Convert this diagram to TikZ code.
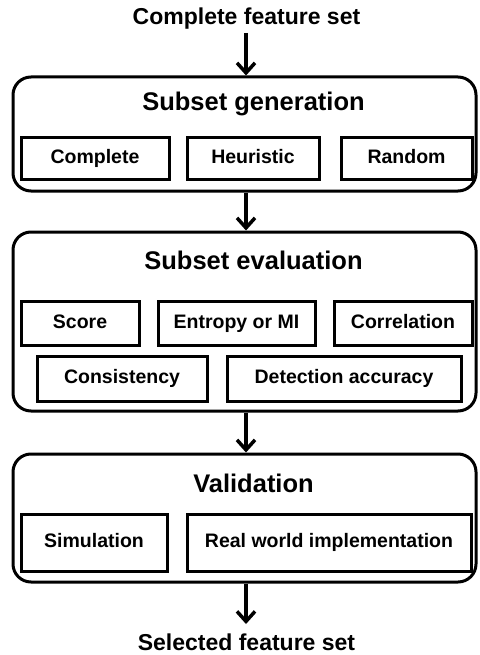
\documentclass[tikz,border=0pt]{standalone}
\usepackage{fontspec}
\setmainfont{Liberation Sans}
\usetikzlibrary{arrows.meta}
\tikzset{
  stage/.style={draw, line width=3pt, rounded corners=18pt, minimum width=463pt, inner sep=0pt},
  item/.style={draw, line width=3pt, inner sep=0pt, text height=14pt, text depth=4pt,
    font=\fontsize{19.5}{23}\selectfont\bfseries},
  heading/.style={anchor=base, inner sep=0pt, font=\fontsize{25.5}{30}\selectfont\bfseries},
  endlabel/.style={anchor=base, inner sep=0pt, font=\fontsize{23}{27}\selectfont\bfseries},
  flow/.style={line width=3.5pt, -{Straight Barb[length=10pt,width=18pt,line width=3.5pt]}}
}
\begin{document}
\begin{tikzpicture}[x=1pt, y=-1pt]
  \useasboundingbox (0,0) rectangle (479,655);

  % input and output labels
  \node[endlabel] (input) at (246.5,25) {Complete feature set};
  \node[endlabel] (output) at (246.5,650) {Selected feature set};

  % stage frames
  \node[stage, minimum height=114pt] (gen) at (244.5,134) {};
  \node[stage, minimum height=179pt] (eval) at (244.5,321.5) {};
  \node[stage, minimum height=128pt] (valid) at (244.5,518) {};

  % stage headings
  \node[heading] (genT) at (253.5,111) {Subset generation};
  \node[heading] (evalT) at (253.5,269) {Subset evaluation};
  \node[heading] (validT) at (253.5,492) {Validation};

  % subset generation methods
  \node[item, minimum width=148pt, minimum height=42pt] (complete) at (95,158.5) {Complete};
  \node[item, minimum width=132pt, minimum height=42pt] (heuristic) at (253,158.5) {Heuristic};
  \node[item, minimum width=131pt, minimum height=42pt] (random) at (406.5,158.5) {Random};

  % evaluation criteria
  \node[item, minimum width=118pt, minimum height=44pt] (score) at (80,323) {Score};
  \node[item, minimum width=157pt, minimum height=44pt] (entropy) at (236.5,323) {Entropy or MI};
  \node[item, minimum width=138pt, minimum height=44pt] (corr) at (403,323) {Correlation};
  \node[item, minimum width=170pt, minimum height=45pt] (consist) at (122,378.5) {Consistency};
  \node[item, minimum width=234pt, minimum height=45pt] (detect) at (344,378.5) {Detection accuracy};

  % validation approaches
  \node[item, minimum width=146pt, minimum height=57pt] (sim) at (94,542.5) {Simulation};
  \node[item, minimum width=284pt, minimum height=57pt] (real) at (329,542.5) {Real world implementation};

  % flow between stages
  \coordinate (inEnd) at (246,33);
  \coordinate (outEnd) at (246,624);
  \draw[flow] (inEnd) -- (inEnd |- gen.north);
  \draw[flow] (inEnd |- gen.south) -- (inEnd |- eval.north);
  \draw[flow] (inEnd |- eval.south) -- (inEnd |- valid.north);
  \draw[flow] (inEnd |- valid.south) -- (outEnd);
\end{tikzpicture}
\end{document}
